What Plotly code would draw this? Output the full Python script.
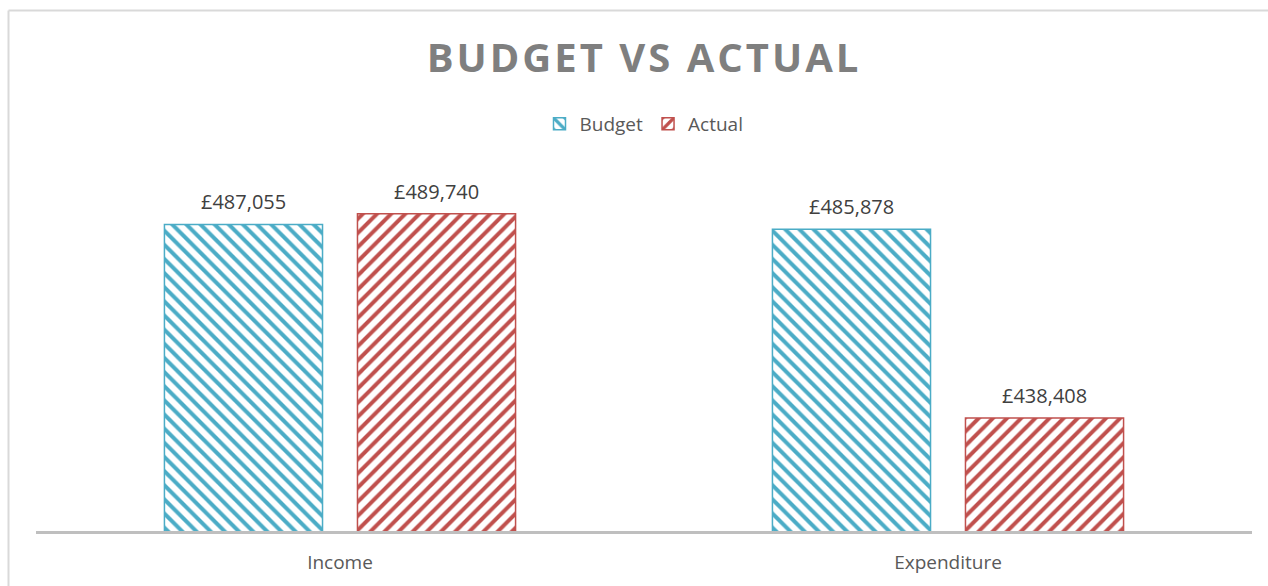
import plotly.graph_objects as go

categories = ["Income", "Expenditure"]
budget = [487055, 485878]
actual = [489740, 438408]
series_names = ["Budget", "Actual"]
title_text = "BUDGET VS ACTUAL"

W, H = 1268, 586
L, R, T, B = 36, 16, 173, 55
plot_w = W - L - R
plot_h = H - T - B

def px_x(p):
    return (p - L) / plot_w

def px_y(p):
    return (H - B - p) / plot_h

blue = "#4bacc6"
red = "#c0504d"
BARGAP = 0.365
GROUPGAP = 0.181
slot_px = plot_w / len(categories) * (1 - BARGAP) / 2

fig = go.Figure()
for name, vals, col, shp in [(series_names[0], budget, blue, "\\"), (series_names[1], actual, red, "/")]:
    fig.add_trace(go.Bar(
        x=categories, y=vals, name=name,
        marker=dict(color="white", line=dict(color=col, width=1.5),
                    pattern=dict(shape=shp, fgcolor=col, bgcolor="white", fgopacity=1,
                                 size=10, solidity=0.4, fillmode="overlay")),
        cliponaxis=False,
    ))

annotations = []
for i, vals in enumerate([budget, actual]):
    off = (-0.5 + i) * slot_px
    for c, v in zip(categories, vals):
        annotations.append(dict(
            x=c, y=v, xref="x", yref="y", text=f"£{v:,.0f}", showarrow=False,
            xshift=off, yshift=7, yanchor="bottom", xanchor="center",
            font=dict(family="Open Sans", size=20, color="#404040"),
        ))

fig.update_layout(
    width=W, height=H,
    margin=dict(l=L, r=R, t=T, b=B),
    paper_bgcolor="white", plot_bgcolor="white",
    font=dict(family="Open Sans", color="#595959"),
    barmode="group", bargap=BARGAP, bargroupgap=GROUPGAP,
    title=dict(text="<b><span style=\"letter-spacing:3px\">" + title_text + "</span></b>",
               x=644 / W, xanchor="center",
               y=1 - 58 / H, yanchor="middle",
               font=dict(family="Open Sans", size=40, color="#7f7f7f")),
    legend=dict(orientation="h", x=px_x(644), xanchor="center", y=px_y(124), yanchor="middle",
                font=dict(family="Open Sans", size=19, color="#595959"),
                bgcolor="rgba(0,0,0,0)"),
    showlegend=True,
    xaxis=dict(showline=True, linecolor="#bfbfbf", linewidth=3, ticks="",
               ticklabelstandoff=12,
               tickfont=dict(family="Open Sans", size=19, color="#595959"),
               showgrid=False, zeroline=False),
    yaxis=dict(range=[410000, 500000], visible=False, showgrid=False, zeroline=False),
    annotations=annotations,
    shapes=[
        dict(type="line", xref="paper", yref="paper", x0=px_x(8.5), x1=px_x(8.5), y0=px_y(10.5), y1=px_y(600),
             line=dict(color="#d9d9d9", width=2)),
        dict(type="line", xref="paper", yref="paper", x0=px_x(8.5), x1=px_x(1290), y0=px_y(10.5), y1=px_y(10.5),
             line=dict(color="#d9d9d9", width=2)),
    ],
)

fig.write_html("out.html")
